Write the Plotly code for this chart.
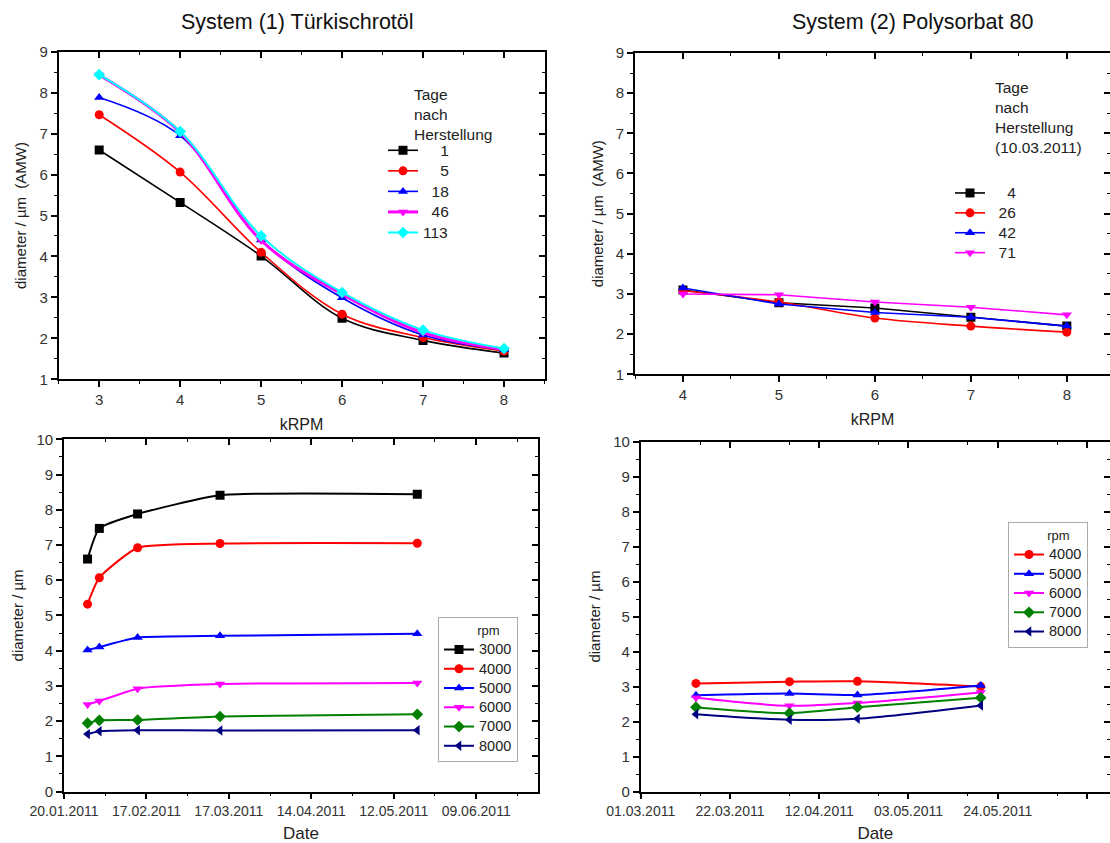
import plotly.graph_objects as go

W, H = 1110, 843
FONT = "Liberation Sans, Arial, sans-serif"

# ---------------- data ----------------
# System (1): diameter vs kRPM for days after production
krpm_1 = [3, 4, 5, 6, 7, 8]
days_1_labels = ["\u2007\u20071", "\u2007\u20075", "\u200718", "\u200746", "113"]
sys1_day1 = [6.60, 5.32, 4.01, 2.49, 1.95, 1.64]
sys1_day5 = [7.46, 6.06, 4.10, 2.59, 2.02, 1.69]
sys1_day18 = [7.88, 6.95, 4.40, 2.99, 2.08, 1.72]
sys1_day46 = [8.43, 7.03, 4.39, 3.08, 2.14, 1.73]
sys1_day113 = [8.44, 7.05, 4.50, 3.12, 2.20, 1.75]

# System (2): diameter vs kRPM for days after production (10.03.2011)
krpm_2 = [4, 5, 6, 7, 8]
days_2_labels = ["\u2007\u20074", "\u200726", "\u200742", "\u200771"]
sys2_day4 = [3.10, 2.78, 2.65, 2.42, 2.20]
sys2_day26 = [3.08, 2.80, 2.40, 2.20, 2.05]
sys2_day42 = [3.15, 2.75, 2.54, 2.42, 2.20]
sys2_day71 = [3.00, 2.98, 2.80, 2.67, 2.48]

# System (1): diameter vs date for rpm
dates_1 = ["2011-01-28", "2011-02-01", "2011-02-14", "2011-03-14", "2011-05-20"]
rpm_labels_1 = ["3000", "4000", "5000", "6000", "7000", "8000"]
bl_3000 = [6.60, 7.47, 7.88, 8.41, 8.44]
bl_4000 = [5.32, 6.07, 6.92, 7.04, 7.05]
bl_5000 = [4.02, 4.10, 4.37, 4.42, 4.48]
bl_6000 = [2.47, 2.57, 2.92, 3.05, 3.08]
bl_7000 = [1.94, 2.02, 2.03, 2.13, 2.19]
bl_8000 = [1.63, 1.71, 1.74, 1.73, 1.74]

# System (2): diameter vs date for rpm
dates_2 = ["2011-03-14", "2011-04-05", "2011-04-21", "2011-05-20"]
rpm_labels_2 = ["4000", "5000", "6000", "7000", "8000"]
br_4000 = [3.09, 3.14, 3.15, 3.00]
br_5000 = [2.75, 2.80, 2.76, 3.03]
br_6000 = [2.68, 2.45, 2.53, 2.83]
br_7000 = [2.41, 2.24, 2.41, 2.68]
br_8000 = [2.21, 2.05, 2.08, 2.46]

# ---------------- styles ----------------
BLACK, RED, BLUE, MAG, CYAN, GREEN, NAVY = ("#000000", "#ff0000", "#0000ff",
                                            "#ff00ff", "#00ffff", "#008000", "#000080")

fig = go.Figure()


def big(label, size):
    return '<span style="font-size:%spx">%s</span>' % (size, label)


def add(x, y, name, color, symbol, xa, ya, legend, width=1.6, shape="spline", size=9, smoothing=1.0):
    fig.add_trace(go.Scatter(
        x=x, y=y, name=name, mode="lines+markers",
        line=dict(color=color, width=width, shape=shape, smoothing=smoothing),
        marker=dict(color=color, symbol=symbol, size=size),
        xaxis=xa, yaxis=ya, legend=legend))


# top-left
add(krpm_1, sys1_day1, big(days_1_labels[0], 15.5), BLACK, "square", "x", "y", "legend")
add(krpm_1, sys1_day5, big(days_1_labels[1], 15.5), RED, "circle", "x", "y", "legend")
add(krpm_1, sys1_day18, big(days_1_labels[2], 15.5), BLUE, "triangle-up", "x", "y", "legend")
add(krpm_1, sys1_day46, big(days_1_labels[3], 15.5), MAG, "triangle-down", "x", "y", "legend", width=3)
add(krpm_1, sys1_day113, big(days_1_labels[4], 15.5), CYAN, "diamond", "x", "y", "legend", width=2)

# top-right
add(krpm_2, sys2_day4, big(days_2_labels[0], 15.5), BLACK, "square", "x2", "y2", "legend2", shape="linear")
add(krpm_2, sys2_day26, big(days_2_labels[1], 15.5), RED, "circle", "x2", "y2", "legend2")
add(krpm_2, sys2_day42, big(days_2_labels[2], 15.5), BLUE, "triangle-up", "x2", "y2", "legend2", shape="linear")
add(krpm_2, sys2_day71, big(days_2_labels[3], 15.5), MAG, "triangle-down", "x2", "y2", "legend2", shape="linear")

# bottom-left
for vals, lab, col, sym in zip([bl_3000, bl_4000, bl_5000, bl_6000, bl_7000, bl_8000],
                               rpm_labels_1,
                               [BLACK, RED, BLUE, MAG, GREEN, NAVY],
                               ["square", "circle", "triangle-up", "triangle-down", "diamond", "triangle-left"]):
    add(dates_1, vals, big(lab, 14.5), col, sym, "x3", "y3", "legend3", width=2, smoothing=0.5)

# bottom-right
for vals, lab, col, sym in zip([br_4000, br_5000, br_6000, br_7000, br_8000],
                               rpm_labels_2,
                               [RED, BLUE, MAG, GREEN, NAVY],
                               ["circle", "triangle-up", "triangle-down", "diamond", "triangle-left"]):
    add(dates_2, vals, big(lab, 14.5), col, sym, "x4", "y4", "legend4", width=2, smoothing=0.8)


# ---------------- axes ----------------
def px2x(p):
    return p / W


def px2y(p):
    return 1 - p / H


AX = dict(showline=True, linecolor="black", linewidth=1.6, showgrid=False, zeroline=False,
          ticks="outside", ticklen=6, tickwidth=1.6, tickcolor="black", automargin=False,
          tickfont=dict(family=FONT, size=15, color="#333333"))

DAY = 86400000.0
panels = [
    dict(n="", dx=(58.7, 544.5), dy=(51.7, 379.3), xr=[2.5, 8.5], xt="linear", xd=1, x0=0, xm=dict(dtick=0.5),
         yr=[1, 9], xtitle="kRPM", ytitle="diameter / \u00b5m  (AMW)"),
    dict(n="2", dx=(635, 1110), dy=(53, 374.3), xr=[3.5, 8.45], xt="linear", xd=1, x0=0, xm=dict(dtick=0.5),
         yr=[1, 9], xtitle="kRPM", ytitle="diameter / \u00b5m  (AMW)"),
    dict(n="3", dx=(64, 538), dy=(439.3, 791.5), xr=["2011-01-20", "2011-06-30"], xt="date", xd=28 * DAY,
         x0="2011-01-20", xm=dict(dtick=14 * DAY, tick0="2011-01-20"),
         yr=[0, 10], xtitle="Date", ytitle="diameter / \u00b5m"),
    dict(n="4", dx=(640.7, 1110), dy=(441.7, 791.5), xr=["2011-03-01", "2011-06-19 10:00"], xt="date",
         xd=21 * DAY, x0="2011-03-01", xm=dict(dtick=21 * DAY, tick0="2011-03-15"),
         yr=[0, 10], xtitle="Date", ytitle="diameter / \u00b5m"),
]

layout = {}
for i, p in enumerate(panels):
    n = p["n"]
    xa = dict(AX, domain=[px2x(p["dx"][0]), px2x(p["dx"][1])], anchor="y" + n, range=p["xr"],
              type=p["xt"], tickmode="linear", dtick=p["xd"], tick0=p["x0"],
              minor=dict(ticks="outside", ticklen=3, tickwidth=1.4, tickcolor="black", **p["xm"]),
              title=dict(text=p["xtitle"], font=dict(family=FONT, size=16 if p["xt"] == "linear" else 17,
                                                      color="#222222"), standoff=12))
    if p["xt"] == "date":
        xa["tickformat"] = "%d.%m.%Y"
        xa["tickfont"] = dict(family=FONT, size=14, color="#333333")
    ya = dict(AX, domain=[px2y(p["dy"][1]), px2y(p["dy"][0])], anchor="x" + n, range=p["yr"],
              tickmode="linear", dtick=1, tick0=0,
              minor=dict(ticks="outside", ticklen=3, tickwidth=1.4, tickcolor="black", dtick=0.5),
              title=dict(text=p["ytitle"], font=dict(family=FONT, size=15, color="#222222"),
                         standoff=9))
    layout["xaxis" + n] = xa
    layout["yaxis" + n] = ya
    # mirrored top / right axes with inward ticks
    k = str(5 + i)
    top = dict(AX, overlaying="x" + n, side="top", anchor="y" + n, range=p["xr"], type=p["xt"],
               tickmode="linear", dtick=p["xd"], tick0=p["x0"], ticks="inside", showticklabels=False,
               minor=dict(ticks="inside", ticklen=3, tickwidth=1.4, tickcolor="black", **p["xm"]))
    right = dict(AX, overlaying="y" + n, side="right", anchor="x" + n, range=p["yr"],
                 tickmode="linear", dtick=1, tick0=0, ticks="inside", showticklabels=False,
                 minor=dict(ticks="inside", ticklen=3, tickwidth=1.4, tickcolor="black", dtick=0.5))
    layout["xaxis" + k] = top
    layout["yaxis" + k] = right

fig.update_layout(**layout)

# invisible anchor traces so the mirrored axes render
for i in range(4):
    k = str(5 + i)
    p = panels[i]
    fig.add_trace(go.Scatter(x=[p["xr"][0]], y=[p["yr"][0]], xaxis="x" + k, yaxis="y" + k,
                             mode="markers", marker=dict(opacity=0), showlegend=False, hoverinfo="skip"))

LEG = dict(bgcolor="rgba(0,0,0,0)", borderwidth=0, xanchor="left", yanchor="top",
           font=dict(family=FONT, size=13.5, color="#222222"), tracegroupgap=0, itemwidth=30)
fig.update_layout(
    width=W, height=H, margin=dict(l=0, r=0, t=0, b=0),
    plot_bgcolor="white", paper_bgcolor="white",
    font=dict(family=FONT, color="#222222"),
    legend=dict(LEG, x=px2x(383), y=px2y(135)),
    legend2=dict(LEG, x=px2x(950), y=px2y(178), font=dict(family=FONT, size=13, color="#222222")),
    legend3=dict(LEG, x=px2x(438), y=px2y(617), bgcolor="white", bordercolor="#aaaaaa", borderwidth=1,
                 font=dict(family=FONT, size=12.5, color="#222222"),
                 title=dict(text="\u2007\u2007\u2007\u2007\u2007rpm", font=dict(family=FONT, size=13))),
    legend4=dict(LEG, x=px2x(1008), y=px2y(522), bgcolor="white", bordercolor="#aaaaaa", borderwidth=1,
                 font=dict(family=FONT, size=12.5, color="#222222"),
                 title=dict(text="\u2007\u2007\u2007\u2007\u2007rpm", font=dict(family=FONT, size=13))),
)

ann = [
    dict(text="System (1) T\u00fcrkischrot\u00f6l", x=px2x(297), y=px2y(22), size=21.5),
    dict(text="System (2) Polysorbat 80", x=px2x(912), y=px2y(22), size=21.5),
]
for a in ann:
    fig.add_annotation(text=a["text"], x=a["x"], y=a["y"], xref="paper", yref="paper",
                       showarrow=False, xanchor="center", yanchor="middle",
                       font=dict(family=FONT, size=a["size"], color="#111111"))

fig.add_annotation(text="Tage<br>nach<br>Herstellung", x=px2x(412), y=px2y(84), xref="paper", yref="paper",
                   showarrow=False, xanchor="left", yanchor="top", align="left",
                   font=dict(family=FONT, size=15.5, color="#222222"))
fig.add_annotation(text="Tage<br>nach<br>Herstellung<br>(10.03.2011)", x=px2x(993), y=px2y(77),
                   xref="paper", yref="paper", showarrow=False, xanchor="left", yanchor="top", align="left",
                   font=dict(family=FONT, size=15.5, color="#222222"))

fig.write_html("out.html")
